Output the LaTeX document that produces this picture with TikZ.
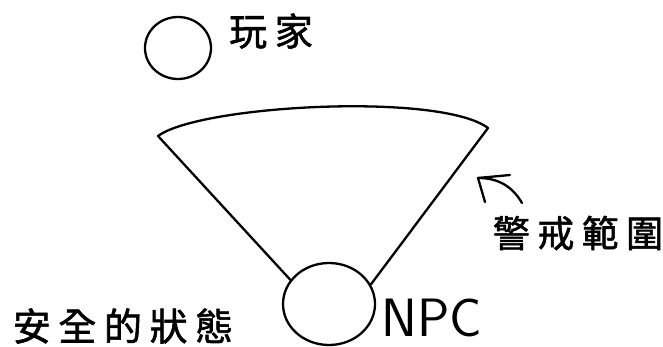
\documentclass[tikz,border=0pt]{standalone}
\usepackage{fontspec}
\newfontfamily\cjk[LetterSpace=20, FakeBold=1.5]{Noto Sans CJK TC}
\usetikzlibrary{shapes.geometric}
\tikzset{
  ink/.style={line width=2.3pt, line cap=round, line join=round, black},
  blob/.style={ellipse, draw, line width=2.3pt, inner sep=0pt},
  label/.style={font=\cjk\fontsize{38}{40}\selectfont, inner sep=0pt, anchor=center}
}
\begin{document}
\begin{tikzpicture}[x=1pt,y=-1pt]
\useasboundingbox (0,0) rectangle (663,347);
% circles
\node[blob, minimum width=66pt, minimum height=62pt] (player) at (178,48) {};
\node[blob, minimum width=92pt, minimum height=82pt] (npc) at (329,304) {};
% texts
\node[label] (tplayer) at (271,31) {玩家};
\node[label, font=\cjk\fontsize{37}{40}\selectfont] (trange) at (578,233) {警戒範圍};
\node[label] (tsafe) at (123,326) {安全的狀態};
\node[inner sep=0pt, font=\sffamily\fontsize{54}{58}\selectfont\addfontfeature{LetterSpace=22}] (tnpc) at (432,318) {NPC};
% sector
\coordinate (L) at (158,136);
\coordinate (R) at (488,128);
\draw[ink] (L) .. controls (200,105) and (440,92) .. (R);
\draw[ink] (L) -- (npc.148);
\draw[ink] (R) -- (npc.25);
% arrow
\coordinate (tip) at (478,178);
\coordinate (tail) at (522,203);
\draw[ink] (tail) .. controls (512,186) and (498,178) .. (tip);
\draw[ink] (tip) -- (510,175);
\draw[ink] (tip) -- (485,202);
\end{tikzpicture}
\end{document}
